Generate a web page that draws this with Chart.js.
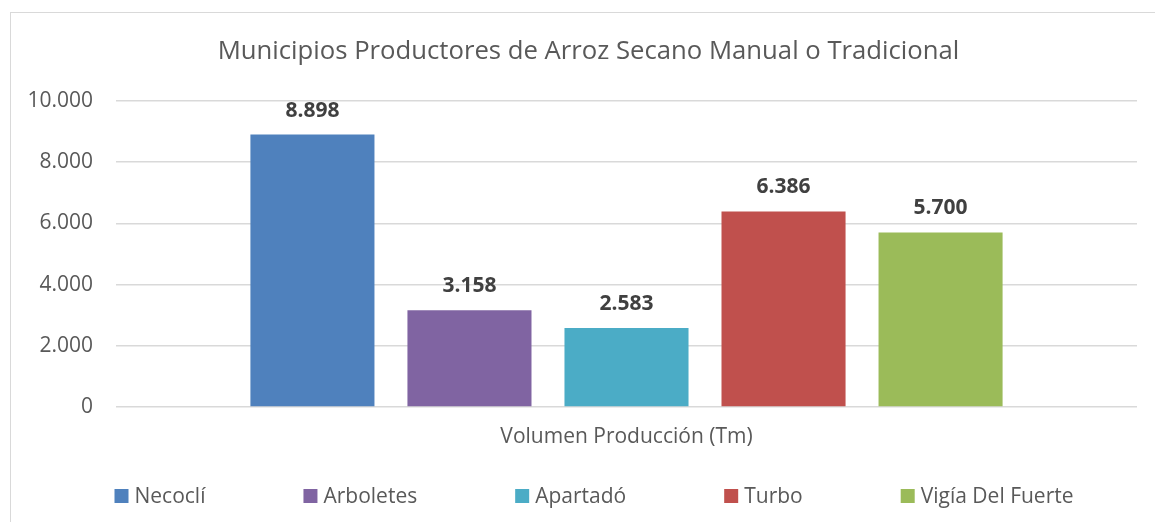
<!DOCTYPE html>
<html>
<head>
<meta charset="utf-8">
<title>Municipios Productores de Arroz Secano Manual o Tradicional</title>
<script src="https://cdn.jsdelivr.net/npm/chart.js@4.4.1/dist/chart.umd.min.js"></script>
<style>
  html, body { margin: 0; padding: 0; background: #fff; }
  canvas { display: block; }
</style>
</head>
<body>
<canvas id="arrozChart" width="1155" height="522"></canvas>
<script>
// Data
const categories = ['Volumen Producción (Tm)'];
const municipios = ['Necoclí', 'Arboletes', 'Apartadó', 'Turbo', 'Vigía Del Fuerte'];
const volumen = [8898, 3158, 2583, 6386, 5700];
const colores = ['#4F81BD', '#8064A2', '#4BACC6', '#C0504D', '#9BBB59'];
const yMin = 0;
const yMax = 10000;
const yStep = 2000;

const FONT = "'Open Sans', 'Noto Sans', sans-serif";
const TEXT = '#595959';

// thousands separator with a dot, as in the original
function fmt(v) {
    return String(v).replace(/\B(?=(\d{3})+(?!\d))/g, '.');
}

// white background + light frame around the chart
const framePlugin = {
    id: 'frame',
    afterLayout(chart) {
        // centre the title over the frame, not over the plot
        if (chart.titleBlock) chart.titleBlock.left = 40;
    },
    beforeDraw(chart) {
        const ctx = chart.ctx;
        ctx.save();
        ctx.fillStyle = '#fff';
        ctx.fillRect(0, 0, chart.width, chart.height);
        ctx.strokeStyle = '#d9d9d9';
        ctx.lineWidth = 1;
        ctx.strokeRect(10.5, 12.5, 1160, 530);
        ctx.restore();
    }
};

// bold value above each bar
const valueLabels = {
    id: 'valueLabels',
    afterDatasetsDraw(chart) {
        const ctx = chart.ctx;
        ctx.save();
        ctx.font = 'bold 21px ' + FONT;
        ctx.fillStyle = '#404040';
        ctx.textAlign = 'center';
        ctx.textBaseline = 'middle';
        chart.data.datasets.forEach((ds, i) => {
            chart.getDatasetMeta(i).data.forEach((bar, j) => {
                ctx.fillText(fmt(ds.data[j]), bar.x, bar.y - 24);
            });
        });
        ctx.restore();
    }
};

// Excel-like legend row at the bottom
const bottomLegend = {
    id: 'bottomLegend',
    afterDraw(chart) {
        const ctx = chart.ctx;
        const box = 14, gapText = 6, gapItem = 98, cy = 496;
        ctx.save();
        ctx.font = '21px ' + FONT;
        ctx.textBaseline = 'middle';
        const items = chart.data.datasets.map(ds => ({
            label: ds.label,
            color: ds.backgroundColor,
            w: box + gapText + ctx.measureText(ds.label).width
        }));
        const total = items.reduce((s, it) => s + it.w, 0) + gapItem * (items.length - 1);
        let x = 594 - total / 2;
        items.forEach(it => {
            ctx.fillStyle = it.color;
            ctx.fillRect(x, cy - box / 2, box, box);
            ctx.fillStyle = TEXT;
            ctx.textAlign = 'left';
            ctx.fillText(it.label, x + box + gapText, cy + 1);
            x += it.w + gapItem;
        });
        ctx.restore();
    }
};

const ctx = document.getElementById('arrozChart').getContext('2d');
new Chart(ctx, {
    type: 'bar',
    data: {
        labels: categories,
        datasets: municipios.map((m, i) => ({
            label: m,
            data: [volumen[i]],
            backgroundColor: colores[i],
            borderWidth: 0,
            categoryPercentage: 0.769,
            barPercentage: 0.79
        }))
    },
    options: {
        responsive: false,
        devicePixelRatio: 1,
        animation: false,
        layout: { padding: { left: 0, right: 18, top: 0, bottom: 0 } },
        plugins: {
            legend: { display: false },
            tooltip: { enabled: false },
            title: {
                display: true,
                text: 'Municipios Productores de Arroz Secano Manual o Tradicional',
                color: TEXT,
                font: { family: FONT, size: 25.7, weight: 'normal', lineHeight: 1.2 },
                padding: { top: 36, bottom: 34 }
            }
        },
        scales: {
            x: {
                grid: { display: false, drawTicks: false },
                border: { display: false },
                ticks: {
                    color: TEXT,
                    font: { family: FONT, size: 21 },
                    padding: 17
                },
                afterFit(scale) { scale.height = 115; }
            },
            y: {
                min: yMin,
                max: yMax,
                grid: { color: '#d9d9d9', lineWidth: 1.5, drawTicks: false },
                border: { display: false },
                ticks: {
                    stepSize: yStep,
                    color: TEXT,
                    font: { family: FONT, size: 21 },
                    padding: 23,
                    callback: v => fmt(v)
                },
                afterFit(scale) { scale.width = 116; }
            }
        }
    },
    plugins: [framePlugin, valueLabels, bottomLegend]
});
</script>
</body>
</html>
